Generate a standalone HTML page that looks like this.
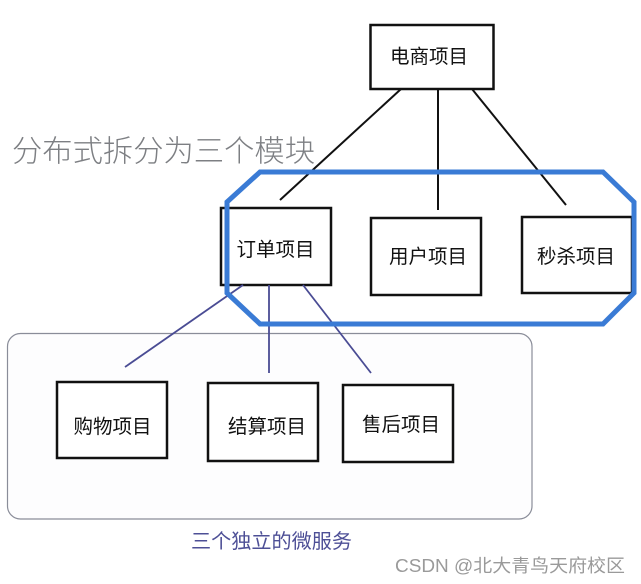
<!DOCTYPE html>
<html><head><meta charset="utf-8"><style>
html,body{margin:0;padding:0;background:#fff;}
svg{display:block;}
text{font-family:"Liberation Sans","Noto Sans CJK SC",sans-serif;}
</style></head><body>
<svg width="641" height="584" viewBox="0 0 641 584" xmlns="http://www.w3.org/2000/svg">
<rect x="0" y="0" width="641" height="584" fill="#ffffff"/>
<!-- rounded container -->
<rect x="7.5" y="333.5" width="524.5" height="185.5" rx="13" ry="13" fill="#fdfdfe" stroke="#8a8d99" stroke-width="1.2"/>
<!-- title -->
<text x="12" y="152" font-size="30" fill="#7d7f83" dominant-baseline="central" font-family="Noto Sans CJK SC, sans-serif" font-weight="300" textLength="303" lengthAdjust="spacingAndGlyphs">分布式拆分为三个模块</text>
<!-- black connectors -->
<g stroke="#111" stroke-width="2" fill="none">
<line x1="401" y1="89" x2="280" y2="200"/>
<line x1="438" y1="89" x2="438" y2="210"/>
<line x1="472" y1="89" x2="566" y2="205"/>
</g>
<!-- boxes -->
<g stroke="#111" stroke-width="2.5" fill="#fff">
<rect x="370.5" y="25" width="123" height="64"/>
<rect x="221" y="208" width="110" height="77"/>
<rect x="371" y="218" width="110" height="77"/>
<rect x="522" y="217" width="110" height="76"/>
<rect x="57" y="382" width="110" height="76"/>
<rect x="208" y="383" width="110" height="78"/>
<rect x="343" y="385" width="110" height="77"/>
</g>
<!-- purple connectors -->
<g stroke="#4a4c94" stroke-width="1.8" fill="none">
<line x1="243" y1="285" x2="125" y2="367"/>
<line x1="269" y1="285" x2="269" y2="373"/>
<line x1="303" y1="285" x2="371" y2="373"/>
</g>
<!-- blue octagon -->
<polygon points="260,172 603,172 634,202 634,293 603,324 260,324 227,293 227,202" fill="none" stroke="#3a7bd5" stroke-width="5" stroke-linejoin="miter"/>
<!-- labels -->
<g font-size="19.5" fill="#111" text-anchor="middle" dominant-baseline="central">
<text x="429" y="57">电商项目</text>
<text x="275.5" y="250">订单项目</text>
<text x="428" y="257">用户项目</text>
<text x="576" y="257">秒杀项目</text>
<text x="112.5" y="427">购物项目</text>
<text x="267" y="427">结算项目</text>
<text x="401" y="425">售后项目</text>
</g>
<text x="191" y="542" font-size="20" fill="#4d4f96" dominant-baseline="central" textLength="161" lengthAdjust="spacingAndGlyphs">三个独立的微服务</text>
<text x="395" y="566" font-size="18" fill="#9a9a9a" dominant-baseline="central" textLength="230" lengthAdjust="spacingAndGlyphs">CSDN @北大青鸟天府校区</text>
</svg>
</body></html>
